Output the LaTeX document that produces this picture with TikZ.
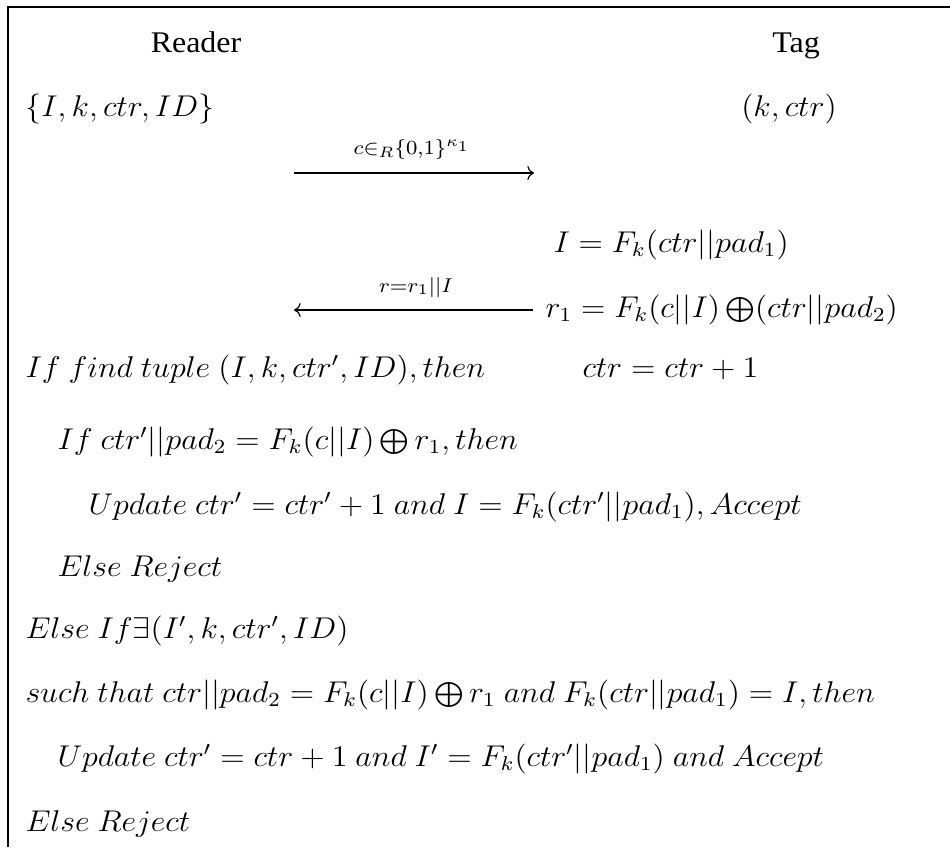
\documentclass[tikz,border=0pt]{standalone}
\usepackage[no-math]{fontspec}
\usepackage{graphicx}
\setmainfont{Liberation Serif}
\usetikzlibrary{arrows.meta}
\newcommand{\hstr}[1]{\scalebox{1.065}[1]{#1}}
\begin{document}
\begin{tikzpicture}[x=0.4pt,y=-0.4pt,
  txt/.style={inner sep=0pt, anchor=base west, font=\fontsize{12}{14.4}\selectfont},
  head/.style={inner sep=0pt, anchor=base, font=\fontsize{12}{14.4}\selectfont},
  lbl/.style={inner sep=0pt, anchor=base, font=\fontsize{12}{14.4}\selectfont},
  msg/.style={line width=0.48pt, -{Computer Modern Rightarrow}},
  frame/.style={line width=0.5pt}]
\useasboundingbox (0,0) rectangle (950,847);
\draw[frame] (8,847) -- (8,7) -- (950,7);
% headers
\node[head] (reader) at (196,52) {\hstr{Reader}};
\node[head] (tag) at (796,52) {\hstr{Tag}};
\node[txt] (rstate) at (25,116) {\hstr{$\{I,k,ctr,ID\}$}};
\node[head] (tstate) at (789,116) {\hstr{$(k,ctr)$}};
% message 1
\coordinate (c1s) at (294,173);
\coordinate (c1e) at (534,173);
\node[lbl] (m1) at (412,154) {\hstr{$\scriptstyle c\in_R\{0,1\}^{\kappa_1}$}};
\draw[msg] (c1s) -- (c1e);
% tag computation
\node[txt] (tI) at (553,252) {\hstr{$I = F_k(ctr||pad_1)$}};
\node[lbl] (m2) at (416,292) {\hstr{$\scriptstyle r=r_1||I$}};
\node[txt] (tr) at (545,317) {\hstr{$r_1 = F_k(c||I)\bigoplus(ctr||pad_2)$}};
\coordinate (c2s) at (533,310);
\coordinate (c2e) at (294,310);
\draw[msg] (c2s) -- (c2e);
% reader logic
\node[txt] (l1) at (25,377) {\hstr{$If\ find\ tuple\ (I,k,ctr',ID), then$}};
\node[txt] (tc) at (582,377) {\hstr{$ctr = ctr + 1$}};
\node[txt] (l2) at (57,449) {\hstr{$If\ ctr'||pad_2 = F_k(c||I)\bigoplus r_1, then$}};
\node[txt] (l3) at (88,514) {\hstr{$Update\ ctr' = ctr'+1\ and\ I = F_k(ctr'||pad_1), Accept$}};
\node[txt] (l4) at (57,576) {\hstr{$Else\ Reject$}};
\node[txt] (l5) at (25,638) {\hstr{$Else\ If\exists(I',k,ctr',ID)$}};
\node[txt] (l6) at (25,702) {\hstr{$such\ that\ ctr||pad_2 = F_k(c||I)\bigoplus r_1\ and\ F_k(ctr||pad_1) = I, then$}};
\node[txt] (l7) at (57,766) {\hstr{$Update\ ctr' = ctr+1\ and\ I' = F_k(ctr'||pad_1)\ and\ Accept$}};
\node[txt] (l8) at (25,831) {\hstr{$Else\ Reject$}};
\end{tikzpicture}
\end{document}
